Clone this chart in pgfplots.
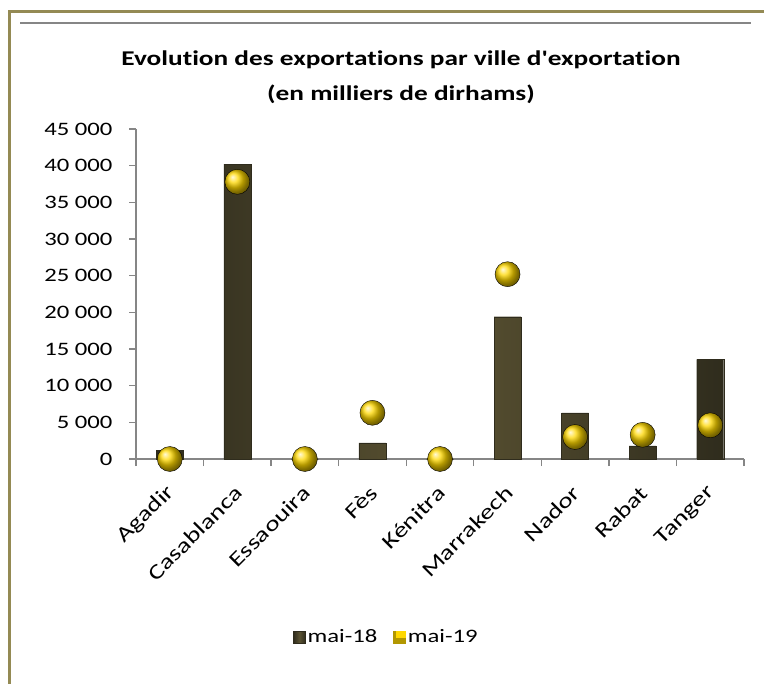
\documentclass[border=0pt]{standalone}
\usepackage{pgfplots}
\pgfplotsset{compat=1.18}
\usepackage{fontspec}
\setmainfont{Carlito}[FakeStretch=1.3]
\newfontfamily\carl{Carlito}[FakeStretch=1.3, Ligatures=NoCommon]
\definecolor{frameol}{HTML}{948A54}
\definecolor{axgray}{HTML}{868686}
\definecolor{bardark}{HTML}{2F2C1D}
\definecolor{barmid}{HTML}{5A5232}
\definecolor{gold}{HTML}{FFD800}
\begin{document}
\begin{tikzpicture}
\useasboundingbox (0,0) rectangle (764bp,684bp);
% frame
\draw[frameol, line width=3bp] (9bp,0) -- (9bp,672bp) -- (764bp,672bp);
\draw[axgray, line width=2bp] (20bp,660.5bp) -- (751bp,660.5bp);
% title
\node[font=\carl\fontsize{21bp}{35bp}\selectfont\bfseries, align=center] at (401bp,607bp)
  {Evolution des exportations par ville d'exportation\\(en milliers de dirhams)};
\begin{axis}[
  at={(136bp,225bp)}, anchor=south west,
  scale only axis, width=608bp, height=330bp,
  xmin=-0.5, xmax=8.5, ymin=0, ymax=45000,
  axis x line*=bottom, axis y line*=left,
  axis line style={axgray, line width=1.6bp, -},
  tick align=outside,
  major tick length=7bp,
  tick style={axgray, line width=1.4bp},
  xtick={-0.5,0.5,...,8.5}, xticklabels={},
  extra x ticks={0,1,2,3,4,5,6,7,8},
  extra x tick labels={Agadir,Casablanca,Essaouira,Fès,Kénitra,Marrakech,Nador,Rabat,Tanger},
  extra x tick style={major tick length=0pt, tick style={draw=none},
    ticklabel style={xshift=4bp, yshift=-28bp, rotate=45, anchor=east,
      font=\fontsize{21bp}{24bp}\selectfont}},
  ytick={0,5000,...,45000},
  yticklabels={0,5 000,10 000,15 000,20 000,25 000,30 000,35 000,40 000,45 000},
  scaled y ticks=false,
  ticklabel style={font=\fontsize{19bp}{22bp}\selectfont},
  yticklabel style={xshift=-13bp},
  legend style={at={(0.412,-0.54)}, anchor=center, draw=none, fill=none,
    font=\fontsize{19bp}{22bp}\selectfont, legend columns=2,
    /tikz/every even column/.append style={column sep=14bp}},
  clip=false,
]
\addplot[ybar, bar width=27bp, draw=bardark, left color=bardark, right color=bardark, middle color=barmid,
  legend image code/.code={\fill[bardark] (0bp,-6bp) rectangle (12bp,6bp);}]
  coordinates {(0,1200) (1,40200) (2,0) (3,2200) (4,0) (5,19400) (6,6300) (7,1800) (8,13600)};
\addlegendentry{mai-18}
\addplot[only marks, mark=ball, mark size=12.5bp, mark options={ball color=gold},
  legend image code/.code={\fill[gold!70!black] (0bp,-6bp) rectangle (12bp,6bp); \fill[gold] (3bp,0bp) rectangle (12bp,6bp);}]
  coordinates {(0,0) (1,37800) (2,0) (3,6300) (4,0) (5,25200) (6,3000) (7,3300) (8,4600)};
\addlegendentry{mai-19}
\end{axis}
\end{tikzpicture}
\end{document}
